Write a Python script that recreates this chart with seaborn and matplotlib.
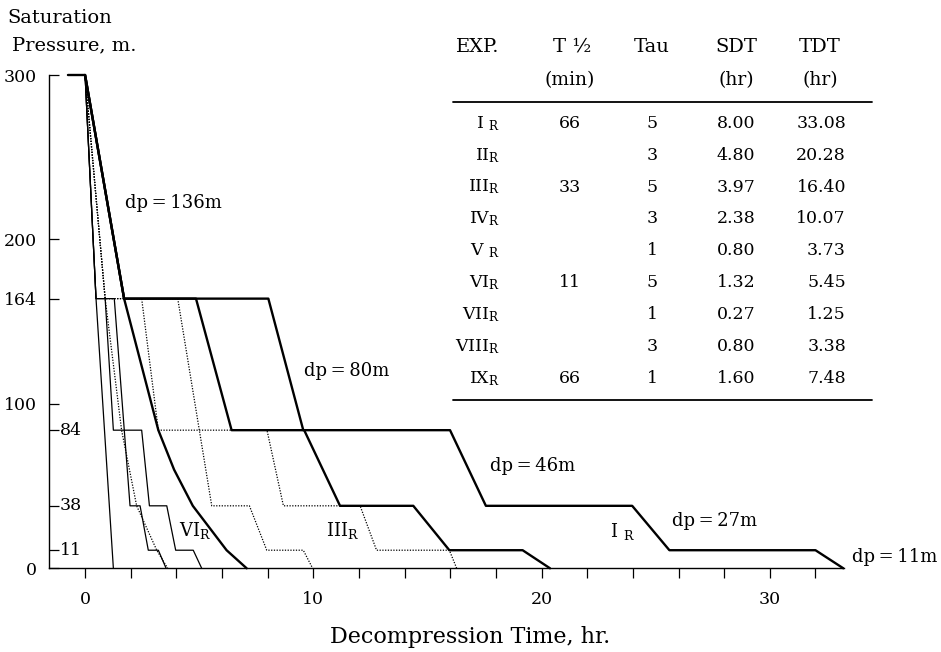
import matplotlib
matplotlib.use("Agg")
import pandas as pd
import seaborn as sns
import matplotlib.pyplot as plt
from matplotlib.lines import Line2D
from matplotlib.ticker import MultipleLocator

# profiles: time (hr) vs saturation pressure (m)
t_I = [-0.75, 0, 1.71, 8.03, 9.56, 15.99, 17.56, 23.97, 25.6, 32.0, 33.22]
p_I = [300, 300, 164, 164, 84, 84, 38, 38, 11, 11, 0]
t_II = [0, 1.71, 4.86, 6.42, 9.6, 11.17, 14.38, 15.96, 19.17, 20.37]
p_II = [300, 164, 164, 84, 84, 38, 38, 11, 11, 0]
t_IX = [0, 1.71, 3.21, 3.9, 4.72, 6.2, 7.08]
p_IX = [300, 164, 84, 60, 38, 11, 0]

t_III = [0, 0.88, 2.48, 3.21, 7.97, 8.69, 12.05, 12.77, 15.96, 16.28]
p_III = [300, 164, 164, 84, 84, 38, 38, 11, 11, 0]
t_IV = [0, 0.88, 4.06, 5.55, 7.2, 7.96, 9.56, 9.97]
p_IV = [300, 164, 164, 38, 38, 11, 11, 0]
t_V = [0, 0.88, 1.6, 2.26, 3.14, 3.62]
p_V = [300, 164, 84, 38, 11, 0]

t_VI = [0, 0.48, 0.88, 1.24, 2.48, 2.82, 3.58, 3.97, 4.74, 5.11]
p_VI = [300, 164, 164, 84, 84, 38, 38, 11, 11, 0]
t_VII = [0, 0.48, 1.24]
p_VII = [300, 164, 0]
t_VIII = [0, 0.48, 1.28, 1.97, 2.41, 2.77, 3.21, 3.55]
p_VIII = [300, 164, 164, 38, 38, 11, 11, 0]

# table in the upper right
exp_names = ["I", "II", "III", "IV", "V", "VI", "VII", "VIII", "IX"]
t_half = ["66", "", "33", "", "", "11", "", "", "66"]
tau = ["5", "3", "5", "3", "1", "5", "1", "3", "1"]
sdt = ["8.00", "4.80", "3.97", "2.38", "0.80", "1.32", "0.27", "0.80", "1.60"]
tdt = ["33.08", "20.28", "16.40", "10.07", "3.73", "5.45", "1.25", "3.38", "7.48"]

dp_labels = ["dp=136m", "dp=80m", "dp=46m", "dp=27m", "dp=11m"]

sns.set_style("ticks")
plt.rcParams["font.family"] = "DejaVu Serif"
plt.rcParams["mathtext.fontset"] = "dejavuserif"
plt.rcParams["text.color"] = "black"
plt.rcParams["xtick.color"] = "black"
plt.rcParams["ytick.color"] = "black"
plt.rcParams["axes.edgecolor"] = "black"

W, H = 941, 652
fig = plt.figure(figsize=(W / 100, H / 100), dpi=100)
x0, x1 = 49, 844
ax = fig.add_axes([x0 / W, 1 - 568.3 / H, (x1 - x0) / W, (568.3 - 75) / H])

profiles = [
    (t_I, p_I, "thick"), (t_II, p_II, "thick"), (t_IX, p_IX, "thick"),
    (t_III, p_III, "dot"), (t_IV, p_IV, "dot"), (t_V, p_V, "dot"),
    (t_VI, p_VI, "thin"), (t_VII, p_VII, "thin"), (t_VIII, p_VIII, "thin"),
]
styles = {
    "thick": dict(lw=1.7, ls="-"),
    "dot": dict(lw=0.9, ls=(0, (1.0, 1.2))),
    "thin": dict(lw=0.9, ls="-"),
}
for t, p, kind in profiles:
    df = pd.DataFrame({"time": t, "pressure": p})
    sns.lineplot(data=df, x="time", y="pressure", sort=False, estimator=None,
                 color="black", clip_on=False, ax=ax, **styles[kind])

ax.set_xlim(-1.58, 33.25)
ax.set_ylim(0, 300)
ax.spines["top"].set_visible(False)
ax.spines["right"].set_visible(False)
ax.spines["left"].set_bounds(0, 300)
ax.spines["left"].set_linewidth(1.0)
ax.spines["bottom"].set_linewidth(1.0)

ax.set_xticks([0, 10, 20, 30])
ax.xaxis.set_minor_locator(MultipleLocator(2))
ax.tick_params(axis="x", which="both", direction="out", length=7, width=0.9,
               labelsize=12.5, pad=9)
ax.set_yticks([0, 100, 164, 200, 300])
ax.set_yticks([11, 38, 84], minor=True)
ax.tick_params(axis="y", which="both", direction="in", length=7, width=0.9,
               labelsize=12.5, pad=9)
ax.set_xlabel("")
ax.set_ylabel("")

# inner labels for the stop depths
for v in [84, 38, 11]:
    ax.text(-1.1, v, str(v), ha="left", va="center", fontsize=12.5)

# dp annotations
dp_pos = [(1.73, 222), (9.61, 120), (17.72, 62), (25.72, 28.5), (33.6, 7)]
for lab, (tx, py) in zip(dp_labels, dp_pos):
    ax.text(tx, py, lab.replace("=", "\u2009=\u2009"), ha="left", va="center",
            fontsize=13)

ax.text(4.1, 23, r"VI$_\mathrm{R}$", ha="left", va="center", fontsize=13)
ax.text(10.55, 23, r"III$_\mathrm{R}$", ha="left", va="center", fontsize=13)
ax.text(23.0, 22.5, r"I $_\mathrm{R}$", ha="left", va="center", fontsize=13)


def fx(x):
    return x / W


def fy(y):
    return 1 - y / H


fig.text(fx(7), fy(18), "Saturation", ha="left", va="center", fontsize=14)
fig.text(fx(12), fy(45), "Pressure, m.", ha="left", va="center", fontsize=14)
fig.text(fx(470), fy(637), "Decompression Time, hr.", ha="center", va="center",
         fontsize=16)

# table
fs = 12.5
heads = [("EXP.", 478), ("T ½", 572), ("Tau", 652), ("SDT", 736), ("TDT", 820)]
for txt, hx in heads:
    fig.text(fx(hx), fy(47), txt, ha="center", va="center", fontsize=14)
for txt, hx in [("(min)", 570), ("(hr)", 736), ("(hr)", 820)]:
    fig.text(fx(hx), fy(80), txt, ha="center", va="center", fontsize=13.5)
for yy in [101.7, 400]:
    fig.add_artist(Line2D([fx(453), fx(872)], [fy(yy), fy(yy)], color="black",
                          lw=1.3, transform=fig.transFigure))
for i in range(len(exp_names)):
    ry = fy(123.3 + 31.9 * i)
    name = exp_names[i]
    sep = " " if name in ("I", "V") else ""
    fig.text(fx(500), ry, name + sep + r"$_\mathrm{R}$", ha="right", va="center",
             fontsize=fs)
    fig.text(fx(570), ry, t_half[i], ha="center", va="center", fontsize=fs)
    fig.text(fx(652), ry, tau[i], ha="center", va="center", fontsize=fs)
    fig.text(fx(736), ry, sdt[i], ha="center", va="center", fontsize=fs)
    fig.text(fx(846), ry, tdt[i], ha="right", va="center", fontsize=fs)

fig.savefig("out.png", dpi=100)
